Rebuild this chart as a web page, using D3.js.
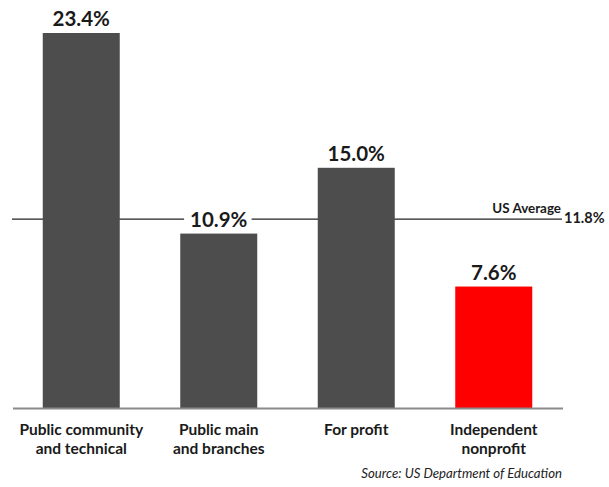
<!DOCTYPE html>
<html>
<head>
<meta charset="utf-8">
<script src="https://cdn.jsdelivr.net/npm/d3@7"></script>
<style>
  body { margin: 0; background: #fff; }
  text { font-family: Lato, "Open Sans", sans-serif; }
</style>
</head>
<body>
<svg></svg>
<script>
let categories = [["Public community", "and technical"], ["Public main", "and branches"], ["For profit"], ["Independent", "nonprofit"]];
let values = [23.4, 10.9, 15.0, 7.6];
let barColors = ["#4d4d4d", "#4d4d4d", "#4d4d4d", "#ff0000"];
let average = 11.8;
let averageLabel = "US Average";
let source = "Source: US Department of Education";

let width = 609;
let height = 487;
let baseY = 408.5;

let svg = d3.select("svg")
    .attr("width", width)
    .attr("height", height);

let xScale = d3.scaleBand()
    .domain(d3.range(values.length))
    .range([12, 563])
    .paddingInner(0.44)
    .paddingOuter(0.2236);

let yScale = d3.scaleLinear()
    .domain([0, 23.4])
    .range([baseY, 33]);

let fmt = (v) => v.toFixed(1) + "%";

// average line, drawn under the bars
let avgY = yScale(average);
svg.append("line")
    .attr("x1", 12)
    .attr("x2", 562)
    .attr("y1", avgY)
    .attr("y2", avgY)
    .attr("stroke", "#222")
    .attr("stroke-width", 1.2);

svg.append("text")
    .attr("x", 561)
    .attr("y", avgY - 6.5)
    .attr("text-anchor", "end")
    .attr("font-size", 13.4)
    .attr("font-weight", "bold")
    .attr("fill", "#1a1a1a")
    .text(averageLabel);

svg.append("text")
    .attr("x", 564)
    .attr("y", avgY + 4)
    .attr("font-size", 14.5)
    .attr("font-weight", "bold")
    .attr("fill", "#1a1a1a")
    .text(fmt(average));

svg.selectAll("rect.bar")
    .data(values)
    .enter()
    .append("rect")
    .attr("class", "bar")
    .attr("x", (d, i) => xScale(i))
    .attr("y", (d) => yScale(d))
    .attr("width", xScale.bandwidth())
    .attr("height", (d) => baseY - yScale(d))
    .attr("fill", (d, i) => barColors[i]);

// value labels with white box behind so the average line breaks around them
let labels = svg.selectAll("g.val")
    .data(values)
    .enter()
    .append("g")
    .attr("class", "val");

labels.append("rect")
    .attr("fill", "#fff");

labels.append("text")
    .attr("x", (d, i) => xScale(i) + xScale.bandwidth() / 2)
    .attr("y", (d) => yScale(d) - 7)
    .attr("text-anchor", "middle")
    .attr("font-size", 20.5)
    .attr("font-weight", "bold")
    .attr("fill", "#1a1a1a")
    .text((d) => fmt(d));

labels.each(function () {
    let g = d3.select(this);
    let bb = g.select("text").node().getBBox();
    g.select("rect")
        .attr("x", bb.x - 6)
        .attr("y", bb.y + 2)
        .attr("width", bb.width + 10)
        .attr("height", bb.height - 4);
});

// baseline
svg.append("line")
    .attr("x1", 13)
    .attr("x2", 563)
    .attr("y1", baseY)
    .attr("y2", baseY)
    .attr("stroke", "#8a8a8a")
    .attr("stroke-width", 2);

let catText = svg.selectAll("text.cat")
    .data(categories)
    .enter()
    .append("text")
    .attr("class", "cat")
    .attr("text-anchor", "middle")
    .attr("font-size", 15.5)
    .attr("font-weight", "bold")
    .attr("fill", "#1a1a1a");

catText.selectAll("tspan")
    .data((d, i) => d.map((line) => ({ line: line, i: i })))
    .enter()
    .append("tspan")
    .attr("x", (d) => xScale(d.i) + xScale.bandwidth() / 2)
    .attr("y", (d, j) => 435 + j * 19)
    .text((d) => d.line);

svg.append("text")
    .attr("x", 562)
    .attr("y", 478)
    .attr("text-anchor", "end")
    .attr("font-size", 13.2)
    .attr("font-style", "italic")
    .attr("fill", "#222")
    .text(source);
</script>
</body>
</html>
